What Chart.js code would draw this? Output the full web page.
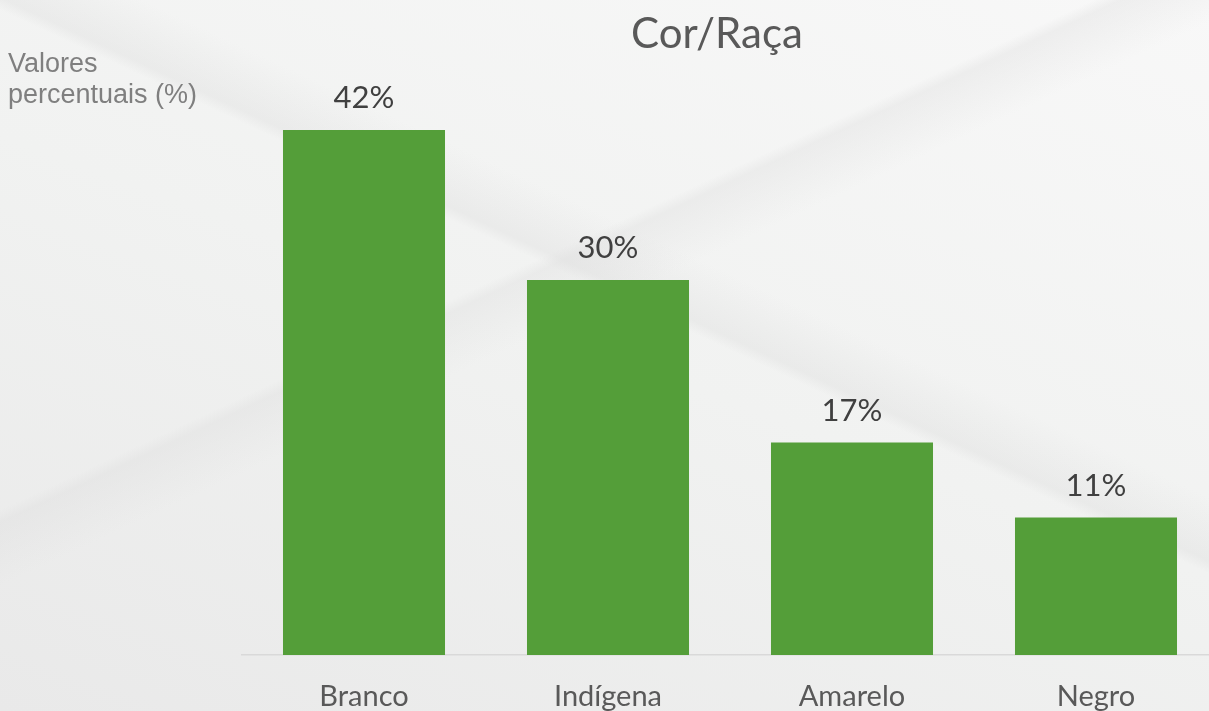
<!DOCTYPE html>
<html>
<head>
<meta charset="utf-8">
<script src="https://cdn.jsdelivr.net/npm/chart.js@4/dist/chart.umd.min.js"></script>
<style>
    html, body { margin: 0; padding: 0; width: 1209px; height: 711px; overflow: hidden; }
    body {
        background:
            linear-gradient(155deg, rgba(255,255,255,0) 40%, rgba(220,220,220,0.35) 41%, rgba(255,255,255,0) 46%),
            linear-gradient(25deg, rgba(255,255,255,0) 55%, rgba(215,215,215,0.3) 56%, rgba(255,255,255,0) 61%),
            linear-gradient(200deg, #f8f8f8 0%, #f1f2f1 50%, #e9e9e9 100%);
    }
    canvas { display: block; }
</style>
</head>
<body>
<canvas id="racaChart" width="1218" height="711"></canvas>
<script>
document.addEventListener('DOMContentLoaded', () => {
    // --- Data ---
    const categories = ['Branco', 'Indígena', 'Amarelo', 'Negro'];
    const percentages = [42, 30, 17, 11];
    const chartTitle = 'Cor/Raça';
    const axisTitleLines = ['Valores', 'percentuais (%)'];

    // labels on top of each bar + title text drawn on the canvas
    const textPlugin = {
        id: 'textPlugin',
        afterDatasetsDraw(chart) {
            const ctx = chart.ctx;
            ctx.save();
            ctx.textAlign = 'center';
            ctx.textBaseline = 'alphabetic';
            ctx.fillStyle = '#404040';
            ctx.font = '31px Lato';
            chart.getDatasetMeta(0).data.forEach((bar, i) => {
                ctx.fillText(percentages[i] + '%', bar.x, bar.y - 22);
            });

            ctx.fillStyle = '#595959';
            ctx.font = '42px Lato';
            ctx.fillText(chartTitle, 717, 48);

            ctx.textAlign = 'left';
            ctx.fillStyle = '#7f7f7f';
            ctx.font = '27px "Liberation Sans"';
            ctx.fillText(axisTitleLines[0], 8, 72);
            ctx.fillText(axisTitleLines[1], 8, 103);
            ctx.restore();
        }
    };

    new Chart(document.getElementById('racaChart').getContext('2d'), {
        type: 'bar',
        data: {
            labels: categories,
            datasets: [{
                data: percentages,
                backgroundColor: '#549e39',
                categoryPercentage: 1,
                barPercentage: 0.664
            }]
        },
        options: {
            responsive: false,
            animation: false,
            layout: { padding: { left: 242, right: 0, top: 30, bottom: 0 } },
            plugins: {
                legend: { display: false },
                title: { display: false },
                tooltip: { enabled: false }
            },
            scales: {
                x: {
                    grid: { display: false, drawTicks: false },
                    border: { display: true, color: '#d9d9d9', width: 1.5 },
                    ticks: { color: '#595959', font: { family: 'Lato', size: 29 }, padding: 24 },
                    afterFit: (scale) => { scale.height = 56; }
                },
                y: { display: false, min: 0, max: 50 }
            }
        },
        plugins: [textPlugin]
    });
});
</script>
</body>
</html>
